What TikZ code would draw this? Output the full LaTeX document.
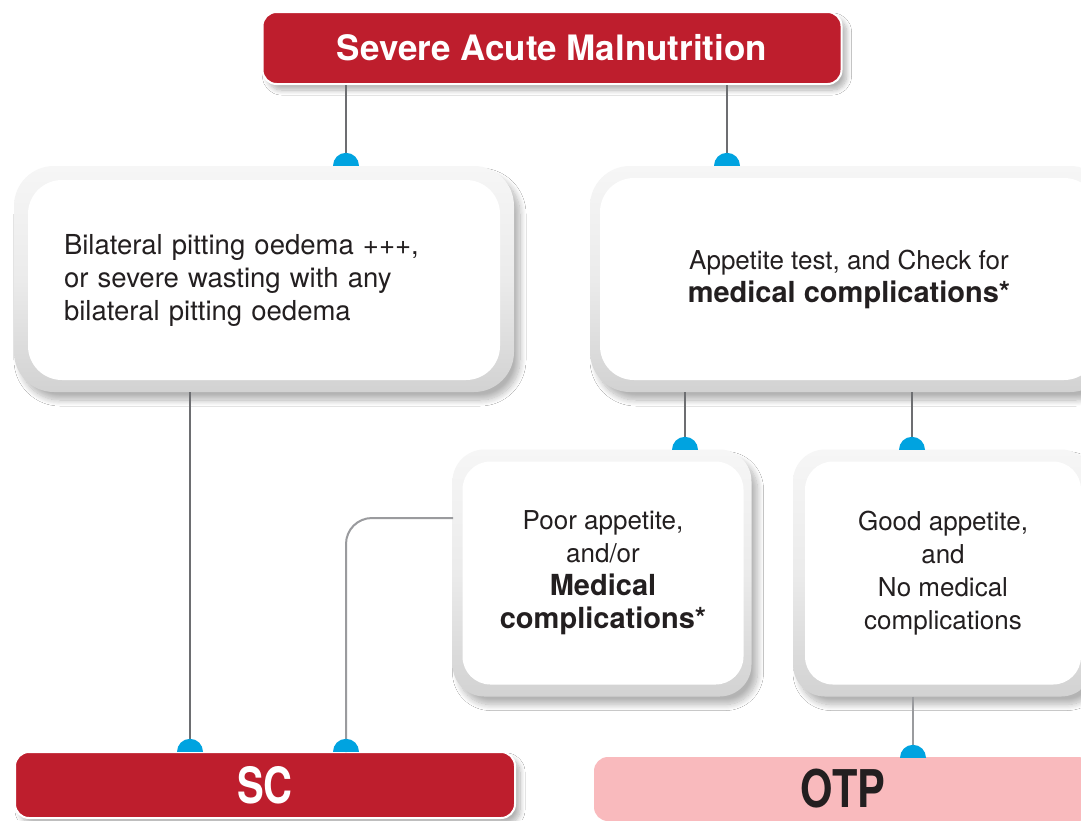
\documentclass[tikz,border=0pt]{standalone}
\usepackage{fontspec}
\setmainfont{TeX Gyre Heros}
\usepackage{graphicx}
\usetikzlibrary{positioning,fit,shadows.blur,shapes.geometric}
\definecolor{samred}{HTML}{BE1E2D}
\definecolor{otppink}{HTML}{F9BABD}
\definecolor{dotblue}{HTML}{00A3E0}
\definecolor{linegray}{HTML}{6D6E71}
\definecolor{softgray}{HTML}{9A9B9E}
\definecolor{inktext}{HTML}{231F20}
\definecolor{frametop}{HTML}{F6F6F6}
\definecolor{framebottom}{HTML}{D2D2D2}

\begin{document}
\begin{tikzpicture}[x=1pt,y=-1pt,
    every node/.style={align=center, text=inktext},
    frame/.style={top color=frametop, bottom color=framebottom, middle color=frametop!70!framebottom,
        rounded corners=40pt,
        blur shadow={shadow xshift=6pt, shadow yshift=-8pt, shadow blur steps=12, shadow blur radius=6pt, shadow opacity=30}},
    panel/.style={fill=white, rounded corners=34pt, font=\fontsize{26}{33}\selectfont},
    redbar/.style={fill=samred, draw=white, line width=2pt, rounded corners=14pt, text=white,
        blur shadow={shadow xshift=5pt, shadow yshift=-6pt, shadow blur steps=10, shadow blur radius=5pt, shadow opacity=30}},
    conn/.style={draw=linegray, line width=2pt},
    dot/.style={semicircle, fill=dotblue, inner sep=0pt, minimum width=26pt, minimum height=13pt, anchor=chord center}]

    \clip (0,0) rectangle (1081,820);
    \fill[white] (0,0) rectangle (1081,820);

    % top title
    \node (sam) [redbar, minimum width=579pt, minimum height=72pt, font=\fontsize{35}{40}\selectfont\bfseries] at (552,48)
        {Severe Acute Malnutrition};

    % first level
    \node (leftout) [frame, minimum width=500pt, minimum height=226pt] at (264,279) {};
    \node (left) [panel, minimum width=472pt, minimum height=200pt, text width=400pt, align=left,
        font=\fontsize{27.5}{33}\selectfont] at (264,280)
        {Bilateral pitting oedema +++,\\ or severe wasting with any\\ bilateral pitting oedema};
    \node (rightout) [frame, minimum width=520pt, minimum height=226pt] at (850,279) {};
    \node (right) [panel, minimum width=498pt, minimum height=202pt] at (849,279)
        {Appetite test, and Check for\\ \fontsize{29}{33}\selectfont\bfseries medical complications*};

    % second level
    \node (poorout) [frame, rounded corners=32pt, minimum width=299pt, minimum height=247pt] at (602,573) {};
    \node (poor) [panel, rounded corners=28pt, minimum width=281pt, minimum height=223pt] at (603,573)
        {Poor appetite,\\ and/or\\ \fontsize{29}{33}\selectfont\bfseries Medical\\
         \fontsize{29}{33}\selectfont\bfseries complications*};
    \node (goodout) [frame, rounded corners=32pt, minimum width=300pt, minimum height=247pt] at (943,573) {};
    \node (good) [panel, rounded corners=28pt, minimum width=276pt, minimum height=223pt] at (943,573)
        {Good appetite,\\ and\\ No medical\\ complications};

    % outcomes
    \node (sc) [redbar, minimum width=500pt, minimum height=66pt, font=\fontsize{50}{50}\selectfont\bfseries] at (265,785)
        {\scalebox{0.8}[1]{SC}};
    \node (otp) [fill=otppink, rounded corners=14pt, minimum width=498pt, minimum height=64pt,
        font=\fontsize{52}{52}\selectfont\bfseries] at (843,789)
        {\scalebox{0.8}[1]{OTP}};

    % joints
    \coordinate (poorjoin) at (453,518);
    \coordinate (j1) at (346,166);
    \coordinate (j2) at (727,166);
    \coordinate (j3) at (685,450);
    \coordinate (j4) at (912,450);
    \coordinate (j5) at (190,752);
    \coordinate (j6) at (346,752);
    \coordinate (j7) at (913,758);

    \draw[conn] (j1 |- sam.south) -- (j1);
    \draw[conn] (j2 |- sam.south) -- (j2);
    \draw[conn] (j3 |- rightout.south) -- (j3);
    \draw[conn] (j4 |- rightout.south) -- (j4);
    \draw[conn] (j5 |- leftout.south) -- (j5);
    \draw[conn, draw=softgray, rounded corners=26pt] (poorjoin) -| (j6);
    \draw[conn, draw=softgray] (j7 |- goodout.south) -- (j7);

    % dots on top
    \foreach \j in {j1,j2,j3,j4,j5,j6,j7}
        \node (dot-\j) [dot] at (\j) {};
\end{tikzpicture}
\end{document}
